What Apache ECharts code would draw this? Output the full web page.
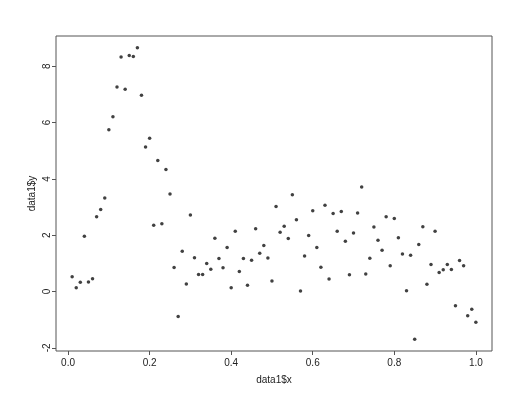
<!DOCTYPE html>
<html>
<head>
<meta charset="utf-8">
<script src="https://cdn.jsdelivr.net/npm/echarts@6/dist/echarts.min.js"></script>
<style>
html,body{margin:0;padding:0;background:#ffffff;}
#chart{width:529px;height:400px;}
</style>
</head>
<body>
<div id="chart"></div>
<script>
var xValues = [0.01,0.02,0.03,0.04,0.05,0.06,0.07,0.08,0.09,0.10,
  0.11,0.12,0.13,0.14,0.15,0.16,0.17,0.18,0.19,0.20,
  0.21,0.22,0.23,0.24,0.25,0.26,0.27,0.28,0.29,0.30,
  0.31,0.32,0.33,0.34,0.35,0.36,0.37,0.38,0.39,0.40,
  0.41,0.42,0.43,0.44,0.45,0.46,0.47,0.48,0.49,0.50,
  0.51,0.52,0.53,0.54,0.55,0.56,0.57,0.58,0.59,0.60,
  0.61,0.62,0.63,0.64,0.65,0.66,0.67,0.68,0.69,0.70,
  0.71,0.72,0.73,0.74,0.75,0.76,0.77,0.78,0.79,0.80,
  0.81,0.82,0.83,0.84,0.85,0.86,0.87,0.88,0.89,0.90,
  0.91,0.92,0.93,0.94,0.95,0.96,0.97,0.98,0.99,1.00];
var yValues = [0.52,0.13,0.33,1.96,0.34,0.45,2.65,2.91,3.32,5.74,
  6.21,7.26,8.33,7.18,8.38,8.35,8.66,6.97,5.13,5.44,
  2.35,4.65,2.41,4.33,3.46,0.85,-0.89,1.43,0.27,2.72,
  1.20,0.60,0.60,0.99,0.79,1.89,1.17,0.84,1.56,0.13,
  2.14,0.71,1.17,0.22,1.11,2.23,1.36,1.63,1.19,0.37,
  3.02,2.10,2.32,1.88,3.44,2.55,0.02,1.26,1.99,2.87,
  1.56,0.86,3.06,0.44,2.77,2.14,2.84,1.78,0.59,2.08,
  2.79,3.71,0.62,1.18,2.29,1.82,1.46,2.65,0.91,2.59,
  1.91,1.33,0.03,1.29,-1.70,1.67,2.30,0.26,0.96,2.14,
  0.67,0.77,0.96,0.78,-0.51,1.10,0.91,-0.86,-0.63,-1.09];
var xTicks = [0, 0.2, 0.4, 0.6, 0.8, 1.0];
var yTicks = [-2, 0, 2, 4, 6, 8];
var xTitle = 'data1$x';
var yTitle = 'data1$y';

var points = xValues.map(function (x, i) { return [x, yValues[i]]; });

var chart = echarts.init(document.getElementById('chart'), null, {renderer: 'canvas'});
var textColor = '#222222';
var font = 'Liberation Sans, Arial, Helvetica, sans-serif';
chart.setOption({
  animation: false,
  backgroundColor: '#ffffff',
  grid: {left: 56, right: 37, top: 36, bottom: 49, show: true, borderColor: '#555555', borderWidth: 1, backgroundColor: 'transparent'},
  xAxis: {
    type: 'value', min: -0.0296, max: 1.0396,
    name: xTitle, nameLocation: 'middle', nameGap: 24, nameMoveOverlap: false,
    nameTextStyle: {color: textColor, fontSize: 10, fontFamily: font},
    splitLine: {show: false},
    axisLine: {show: false, onZero: false},
    axisTick: {show: true, inside: false, length: 4, customValues: xTicks, lineStyle: {color: '#555555'}},
    axisLabel: {customValues: xTicks, margin: 7, color: textColor, fontSize: 10, fontFamily: font,
      formatter: function (v) { return v.toFixed(1); }}
  },
  yAxis: {
    type: 'value', min: -2.114, max: 9.074,
    name: yTitle, nameLocation: 'middle', nameGap: 19, nameMoveOverlap: false,
    nameTextStyle: {color: textColor, fontSize: 10, fontFamily: font},
    splitLine: {show: false},
    axisLine: {show: false, onZero: false},
    axisTick: {show: true, inside: false, length: 4, customValues: yTicks, lineStyle: {color: '#555555'}},
    axisLabel: {customValues: yTicks, rotate: 90, margin: 4, color: textColor, fontSize: 10, fontFamily: font,
      formatter: function (v) { return String(Math.round(v)); }}
  },
  series: [{
    type: 'scatter',
    data: points,
    symbol: 'circle',
    symbolSize: 3.5,
    itemStyle: {color: '#111111'}
  }]
});
</script>
</body>
</html>
